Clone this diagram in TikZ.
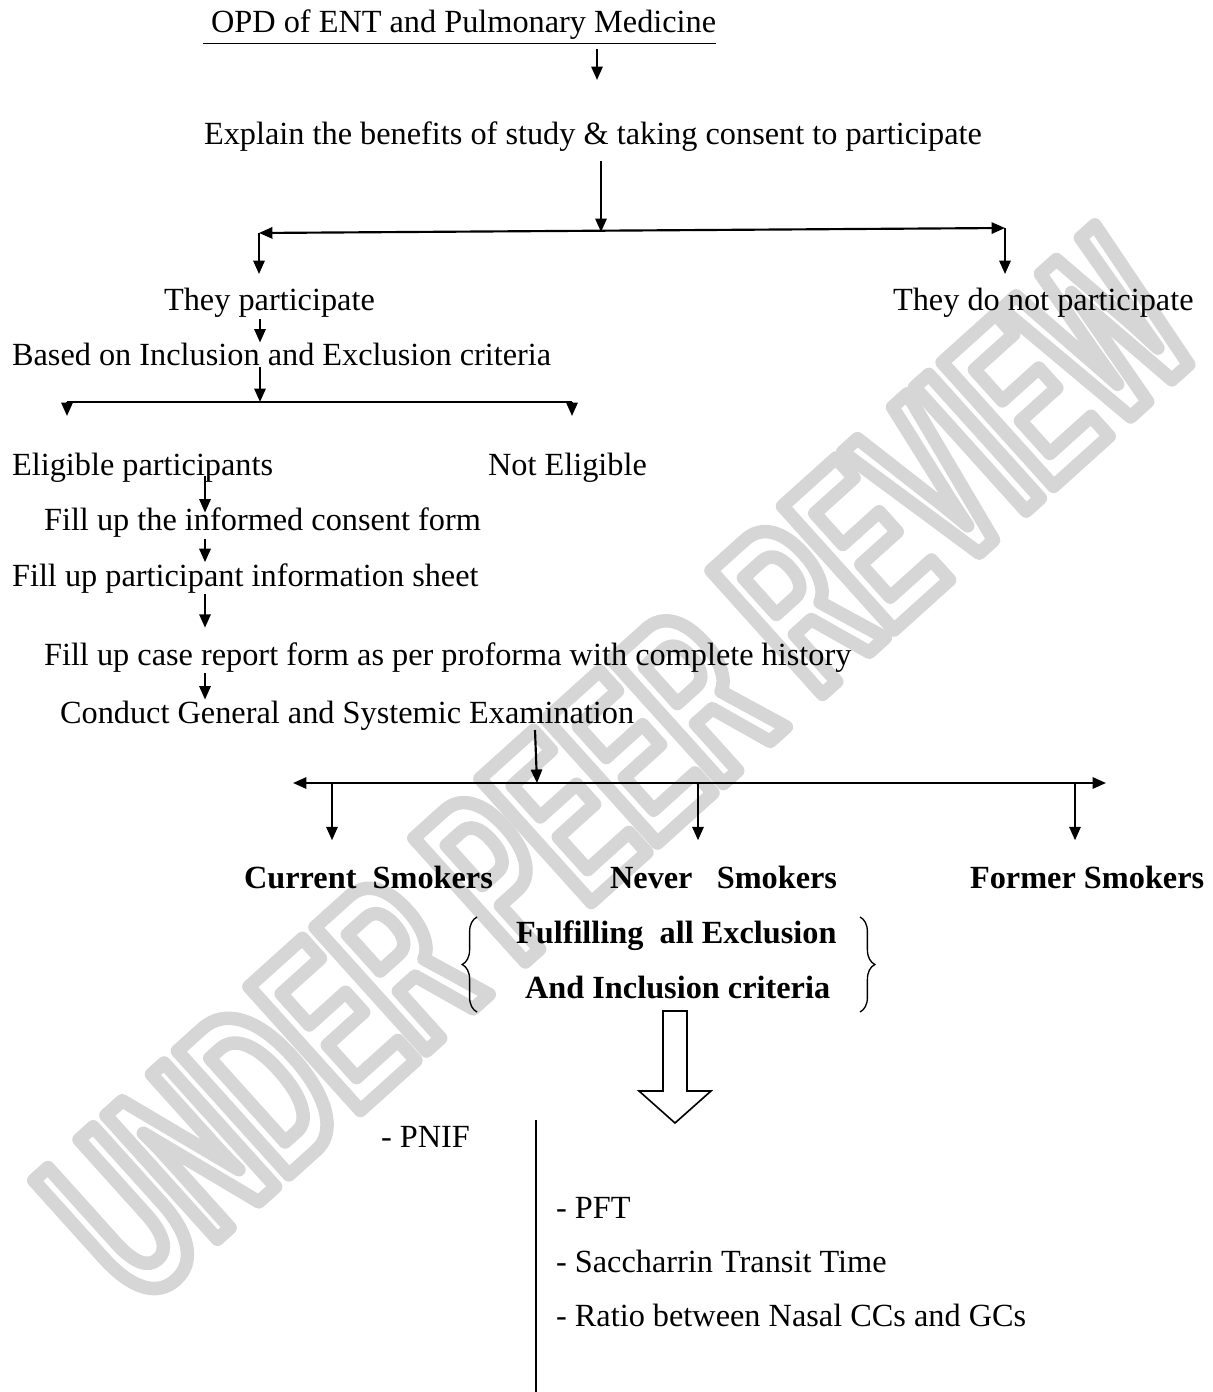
\documentclass[tikz,border=0pt]{standalone}
\usepackage{fontspec}
\setmainfont{Liberation Serif}
\newfontfamily\wmfont[FakeStretch=0.55]{Liberation Sans}
\usetikzlibrary{arrows.meta,positioning,calc,decorations.pathreplacing}

\tikzset{
  txt/.style={inner sep=0pt, anchor=base west, font=\fontsize{12}{14}\selectfont},
  btxt/.style={txt, font=\fontsize{12}{14}\selectfont\bfseries},
  drop/.style={->, shorten >=9pt},
  curly/.style={decorate, decoration={brace, amplitude=5.5pt}, line width=0.5pt},
}

\begin{document}
\begin{tikzpicture}[x=0.3715pt, y=-0.3715pt, line width=0.8pt,
    >={Triangle[length=5pt,width=4.2pt]}]
  \useasboundingbox (0,0) rectangle (1212,1392);

  % watermark
  \node[rotate=42, text=black!15, font=\wmfont\bfseries\fontsize{90}{90}\selectfont] (wm) at (618,768)
    {\special{pdf:literal direct 1 Tr 5 w 0.84 G 1 j}UNDER PEER REVIEW\special{pdf:literal direct 0 Tr}};

  % steps
  \node[txt] (opd) at (202,33) {\underline{\ OPD of ENT and Pulmonary Medicine}};
  \node[txt] (expl) at (203,145) {Explain the benefits of study \& taking consent to participate};
  \node[txt] (yes) at (163,311) {They participate};
  \node[txt] (no) at (892,311) {They do not participate};
  \node[txt] (crit) at (11,366) {Based on Inclusion and Exclusion criteria};
  \node[txt] (elig) at (11,476) {Eligible participants};
  \node[txt] (nelig) at (487,476) {Not Eligible};
  \node[txt] (icf) at (43,531) {Fill up the informed consent form};
  \node[txt] (pis) at (11,586) {Fill up participant information sheet};
  \node[txt] (crf) at (43,665) {Fill up case report form as per proforma with complete history};
  \node[txt] (exam) at (59,723) {Conduct General and Systemic Examination};
  \node[btxt] (cur) at (243,888) {Current\ \ Smokers};
  \node[btxt] (nev) at (609,888) {Never\ \ \ Smokers};
  \node[btxt] (form) at (969,888) {Former Smokers};
  \node[btxt] (ful) at (515,943) {Fulfilling\ \ all Exclusion};
  \node[btxt] (andc) at (524,998) {And Inclusion criteria};
  \node[txt] (pnif) at (380,1147) {- PNIF};
  \node[txt] (pft) at (555,1218) {- PFT};
  \node[txt] (stt) at (555,1272) {- Saccharrin Transit Time};
  \node[txt] (ratio) at (555,1326) {- Ratio between Nasal CCs and GCs};

  % junctions
  \coordinate (a1) at (597,80);
  \coordinate (j1) at (601,232);
  \coordinate (jl) at (259,233);
  \coordinate (jr) at (1005,228);
  \coordinate (sp1) at (260,0);
  \coordinate (k) at (260,402);
  \coordinate (kl) at (67,402);
  \coordinate (kr) at (572,402);
  \coordinate (kl2) at (67,416);
  \coordinate (kr2) at (572,416);
  \coordinate (sp2) at (205,0);
  \coordinate (m0) at (535,730);
  \coordinate (m) at (537,783);
  \coordinate (ml) at (293,783);
  \coordinate (mr) at (1106,783);
  \coordinate (d1) at (332,783);
  \coordinate (d2) at (698,783);
  \coordinate (d3) at (1075,783);

  \draw[->] ([yshift=-1pt]opd.south -| a1) -- (a1);
  \draw[->] ([yshift=-3pt]expl.south -| j1) -- (j1);
  \draw[<->] (jl) -- (jr);
  \draw[->] (jl) -- (jl |- yes.north) [shorten >=5pt];
  \draw[->] (jr) -- (jr |- no.north) [shorten >=5pt];
  \draw[->] (yes.south -| sp1) -- (crit.north -| sp1);
  \draw[->] (crit.south -| sp1) -- (k);
  \draw (kl) -- (kr);
  \draw[->] (kl) -- (kl2);
  \draw[->] (kr) -- (kr2);
  \draw[->] (elig.base -| sp2) -- ([yshift=-2pt]icf.north -| sp2);
  \draw[->] (icf.south -| sp2) -- (pis.north -| sp2);
  \draw[->] (pis.south -| sp2) -- (crf.north -| sp2) [shorten >=5pt];
  \draw[->] (crf.south -| sp2) -- (exam.north -| sp2);
  \draw[->] (m0) -- (m);
  \draw[<->] (ml) -- (mr);
  \draw[drop] (d1) -- (d1 |- cur.north);
  \draw[drop] (d2) -- (d2 |- nev.north);
  \draw[drop] (d3) -- (d3 |- form.north);

  % braces round the criteria
  \draw[curly] (477,1012) -- (477,917);
  \draw[curly] (860,917) -- (860,1012);

  % hollow arrow
  \draw[line width=0.6pt] (663,1011) -- (687,1011) -- (687,1091) -- (711,1091)
    -- (675,1123) -- (639,1091) -- (663,1091) -- cycle;
  \draw[line width=0.6pt] (536,1120) -- (536,1392);
\end{tikzpicture}
\end{document}
